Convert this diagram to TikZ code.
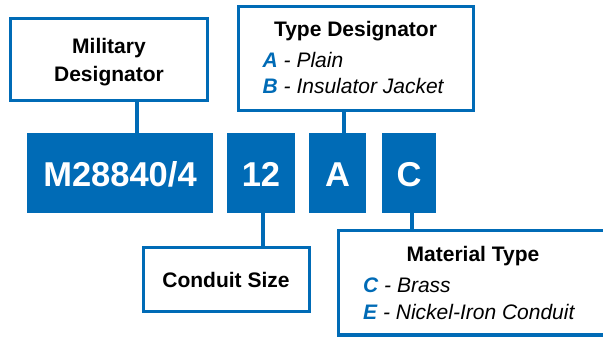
\documentclass[tikz,border=0pt]{standalone}
\usepackage{fontspec}
\setmainfont{Liberation Sans}
\definecolor{mblue}{RGB}{0,107,182}
\begin{document}
\begin{tikzpicture}[x=1pt,y=-1pt,
  outbox/.style={draw=mblue,line width=3.3pt,fill=white,inner sep=0pt,rectangle},
  bluebox/.style={fill=mblue,inner sep=0pt,rectangle,minimum height=80pt},
  conn/.style={draw=mblue,line width=4pt},
  ttl/.style={font=\fontsize{21}{25}\selectfont\bfseries,anchor=base,inner sep=0pt},
  big/.style={font=\fontsize{34.5}{40}\selectfont\bfseries,text=white,anchor=base,inner sep=0pt},
  item/.style={font=\fontsize{21}{25}\selectfont\itshape,anchor=base west,inner sep=0pt}]
\useasboundingbox (0,0) rectangle (603,337);
\clip (0,0) rectangle (603,337);
% outlined boxes
\node[outbox,minimum width=196.7pt,minimum height=81.7pt] (mil) at (109,59.5) {};
\node[outbox,minimum width=234.7pt,minimum height=103.7pt] (typ) at (356,58.5) {};
\node[outbox,minimum width=165.7pt,minimum height=63.7pt] (con) at (226.5,279.5) {};
\node[outbox,minimum width=299.7pt,minimum height=104.2pt] (mat) at (488.5,282.75) {};
% blue boxes
\node[bluebox,minimum width=186pt] (mnum) at (120,173) {};
\node[bluebox,minimum width=68pt] (size) at (261,173) {};
\node[bluebox,minimum width=57pt] (typl) at (337.5,173) {};
\node[bluebox,minimum width=54pt] (matl) at (409,173) {};
% connectors
\coordinate (k1) at (136.5,0);
\coordinate (k2) at (344,0);
\coordinate (k3) at (263.3,0);
\coordinate (k4) at (411.6,0);
\draw[conn] (k1 |- mil.south) -- (k1 |- mnum.north);
\draw[conn] (k2 |- typ.south) -- (k2 |- typl.north);
\draw[conn] (k3 |- size.south) -- (k3 |- con.north);
\draw[conn] (k4 |- matl.south) -- (k4 |- mat.north);
% blue box texts
\node[big] (mnumt) at (120,186.5) {M28840/4};
\node[big] (sizet) at (261,186.5) {12};
\node[big] (typlt) at (337.5,186.5) {A};
\node[big] (matlt) at (409,186.5) {C};
% titles
\node[ttl] (milt1) at (109,54) {Military};
\node[ttl] (milt2) at (109,81.7) {Designator};
\node[ttl] (typt) at (355.5,37) {Type Designator};
\node[ttl] (cont) at (226,287.7) {Conduit Size};
\node[ttl] (matt) at (473,261) {Material Type};
% lists
\node[item] (ta) at (262.5,68) {{\bfseries\color{mblue}A} - Plain};
\node[item] (tb) at (262.5,94) {{\bfseries\color{mblue}B} - Insulator Jacket};
\node[item] (mc) at (363,292) {{\bfseries\color{mblue}C} - Brass};
\node[item] (me) at (363,319) {{\bfseries\color{mblue}E} - Nickel-Iron Conduit};
\end{tikzpicture}
\end{document}
